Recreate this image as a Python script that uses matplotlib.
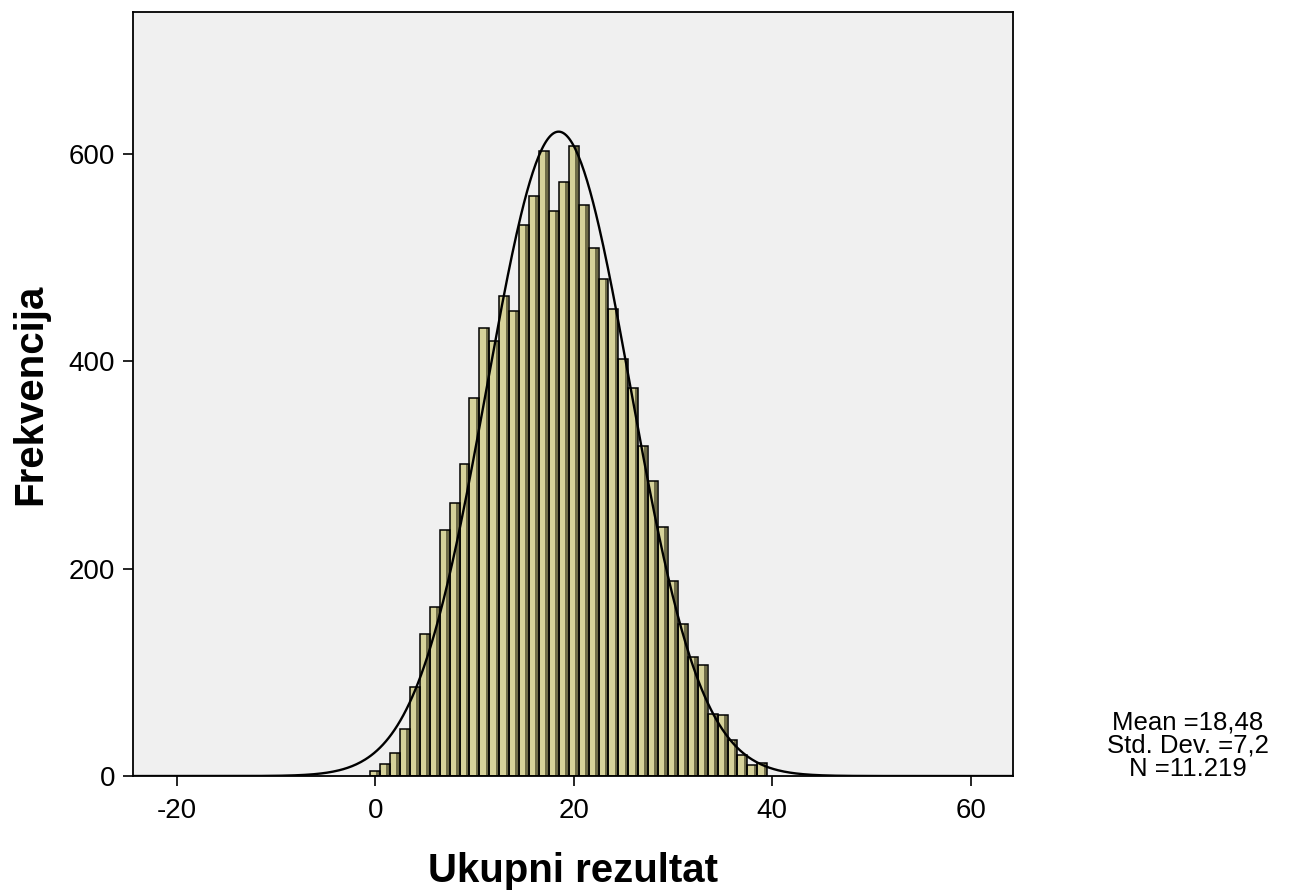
import numpy as np
import matplotlib
matplotlib.use('Agg')
import matplotlib.pyplot as plt

# histogram bins (centred on integer scores) and counts
scores = list(range(0, 40))
counts = [5, 12, 22, 45, 86, 137, 163, 237, 263, 301,
          365, 432, 420, 463, 449, 532, 560, 603, 545, 573,
          608, 551, 509, 479, 451, 402, 374, 318, 285, 240,
          188, 147, 115, 107, 60, 59, 35, 20, 11, 13]

mean = 18.48
std = 7.2
n_total = 11219
bin_width = 1.0

x_ticks = [-20, 0, 20, 40, 60]
y_ticks = [0, 200, 400, 600]

plt.rcParams['font.family'] = ['Liberation Sans', 'DejaVu Sans']
plt.rcParams['axes.unicode_minus'] = False

fig = plt.figure(figsize=(12.91, 8.92), dpi=100)
ax = fig.add_axes([0.103, 0.130, 0.682, 0.8565])
ax.set_facecolor('#f0f0f0')

ax.bar(scores, counts, width=bin_width, color='#d6d29a',
       edgecolor='none', zorder=2)
# darker shade on the right side of each bar
ax.bar(np.array(scores) + 0.28, counts, width=0.3, color='#6f6c48',
       edgecolor='none', zorder=2)
ax.bar(scores, counts, width=bin_width, facecolor='none',
       edgecolor='black', linewidth=1.1, zorder=3)

xs = np.linspace(-24.4, 64.3, 600)
pdf = n_total * bin_width / (std * np.sqrt(2 * np.pi)) * np.exp(-0.5 * ((xs - mean) / std) ** 2)
ax.plot(xs, pdf, color='black', linewidth=1.7, zorder=4)

ax.set_xlim(-24.4, 64.3)
ax.set_ylim(0, 737)
ax.set_xticks(x_ticks)
ax.set_yticks(y_ticks)
ax.tick_params(axis='both', labelsize=20, length=7, width=1.2, color='black',
               direction='out')
ax.tick_params(axis='x', pad=9)
ax.tick_params(axis='y', pad=6)
for s in ax.spines.values():
    s.set_linewidth(1.3)
    s.set_color('black')

ax.set_xlabel('Ukupni rezultat', fontsize=29, fontweight='bold', labelpad=20)
ax.set_ylabel('Frekvencija', fontsize=29, fontweight='bold', labelpad=14)

fig.text(0.92, 0.164, 'Mean =18,48\nStd. Dev. =7,2\nN =11.219',
         ha='center', va='center', fontsize=18.5, linespacing=0.95)

fig.savefig('out.png', dpi=100)
